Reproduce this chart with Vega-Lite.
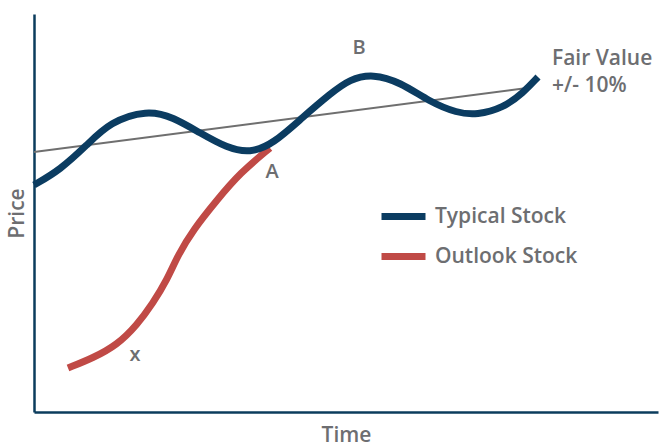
{
  "$schema": "https://vega.github.io/schema/vega-lite/v6.json",
  "width": 624,
  "height": 398,
  "autosize": "none",
  "padding": {"left": 34, "top": 14, "right": 2, "bottom": 34},
  "background": "white",
  "config": {
    "view": {"stroke": null},
    "font": "Open Sans",
    "text": {"font": "Open Sans", "color": "#6d6e71"}
  },
  "datasets": {
    "stocks": [
      {"series": "Outlook Stock", "t": 34, "price": 44},
      {"series": "Outlook Stock", "t": 59, "price": 54},
      {"series": "Outlook Stock", "t": 83, "price": 67},
      {"series": "Outlook Stock", "t": 103, "price": 87},
      {"series": "Outlook Stock", "t": 119, "price": 109},
      {"series": "Outlook Stock", "t": 133, "price": 132},
      {"series": "Outlook Stock", "t": 144, "price": 157},
      {"series": "Outlook Stock", "t": 159, "price": 182},
      {"series": "Outlook Stock", "t": 183, "price": 212},
      {"series": "Outlook Stock", "t": 206, "price": 239},
      {"series": "Outlook Stock", "t": 236, "price": 264},
      {"series": "Typical Stock", "t": 0, "price": 227},
      {"series": "Typical Stock", "t": 26, "price": 242},
      {"series": "Typical Stock", "t": 53, "price": 267},
      {"series": "Typical Stock", "t": 76, "price": 290},
      {"series": "Typical Stock", "t": 113, "price": 302},
      {"series": "Typical Stock", "t": 139, "price": 295},
      {"series": "Typical Stock", "t": 166, "price": 279},
      {"series": "Typical Stock", "t": 193, "price": 264},
      {"series": "Typical Stock", "t": 216, "price": 259},
      {"series": "Typical Stock", "t": 239, "price": 268},
      {"series": "Typical Stock", "t": 269, "price": 295},
      {"series": "Typical Stock", "t": 296, "price": 318},
      {"series": "Typical Stock", "t": 316, "price": 333},
      {"series": "Typical Stock", "t": 339, "price": 338},
      {"series": "Typical Stock", "t": 366, "price": 330},
      {"series": "Typical Stock", "t": 396, "price": 310},
      {"series": "Typical Stock", "t": 423, "price": 299},
      {"series": "Typical Stock", "t": 443, "price": 297},
      {"series": "Typical Stock", "t": 469, "price": 304},
      {"series": "Typical Stock", "t": 489, "price": 319},
      {"series": "Typical Stock", "t": 504, "price": 335}
    ],
    "fair": [
      {"t": 0, "price": 260},
      {"t": 493, "price": 324}
    ],
    "notes": [
      {"label": "B", "t": 325, "price": 364},
      {"label": "A", "t": 238, "price": 240},
      {"label": "x", "t": 101, "price": 57}
    ],
    "fairLabel": [
      {"label": "Fair Value", "t": 518, "price": 347},
      {"label": "+/- 10%", "t": 518, "price": 320}
    ]
  },
  "encoding": {
    "x": {
      "field": "t",
      "type": "quantitative",
      "scale": {"domain": [0, 624], "nice": false, "zero": false},
      "axis": {
        "title": "Time",
        "titleFont": "Open Sans",
        "titleFontSize": 21,
        "titleFontWeight": 600,
        "titleColor": "#6d6e71",
        "titlePadding": 12,
        "labels": false,
        "ticks": false,
        "grid": false,
        "domainColor": "#0b3c5d",
        "domainWidth": 2.5
      }
    },
    "y": {
      "field": "price",
      "type": "quantitative",
      "scale": {"domain": [0, 398], "nice": false, "zero": false},
      "axis": {
        "title": "Price",
        "titleFont": "Open Sans",
        "titleFontSize": 21,
        "titleFontWeight": 600,
        "titleColor": "#6d6e71",
        "titlePadding": 7,
        "labels": false,
        "ticks": false,
        "grid": false,
        "domainColor": "#0b3c5d",
        "domainWidth": 2.5
      }
    }
  },
  "layer": [
    {
      "data": {"name": "fair"},
      "mark": {"type": "line", "color": "#6f6f6f", "strokeWidth": 2},
      "encoding": {}
    },
    {
      "data": {"name": "stocks"},
      "mark": {"type": "line", "strokeWidth": 7, "interpolate": "basis", "strokeCap": "butt"},
      "encoding": {
        "color": {
          "field": "series",
          "type": "nominal",
          "scale": {"domain": ["Typical Stock", "Outlook Stock"], "range": ["#0b3c61", "#c04a46"]},
          "legend": {
            "title": null,
            "orient": "none",
            "legendX": 344,
            "legendY": 177,
            "symbolType": "stroke",
            "symbolSize": 1936,
            "symbolStrokeWidth": 7,
            "labelFont": "Open Sans",
            "labelFontSize": 21,
            "labelFontWeight": 600,
            "labelColor": "#6d6e71",
            "labelOffset": 6,
            "rowPadding": -1
          }
        },
        "order": {"field": "t", "type": "quantitative"}
      }
    },
    {
      "data": {"name": "notes"},
      "mark": {"type": "text", "fontSize": 20, "fontWeight": 600, "align": "center", "baseline": "middle"},
      "encoding": {"text": {"field": "label"}}
    },
    {
      "data": {"name": "fairLabel"},
      "mark": {"type": "text", "fontSize": 21, "fontWeight": 600, "align": "left", "baseline": "alphabetic"},
      "encoding": {"text": {"field": "label"}}
    }
  ]
}
